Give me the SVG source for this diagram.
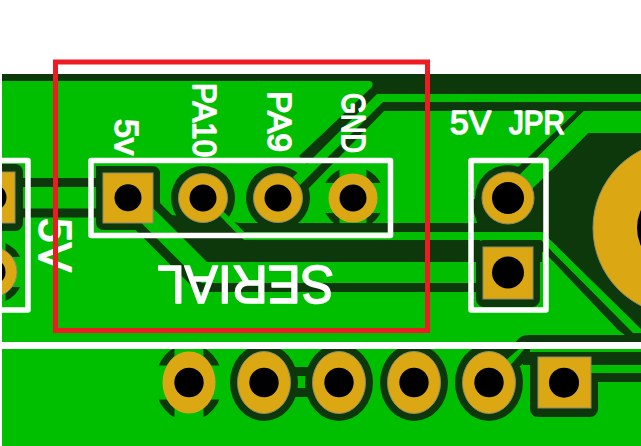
<svg xmlns="http://www.w3.org/2000/svg" width="641" height="446" viewBox="0 0 641 446">
<style>
.g{fill:#00bf00}.d{fill:#0c380c}.tr{fill:none;stroke:#0c380c;stroke-width:9}
.p{fill:#dba813;stroke:#8b8b70;stroke-width:1}.h{fill:#000}
.box{fill:none;stroke:#fff;stroke-width:5.5;stroke-linejoin:round}
.t{font-family:"Liberation Sans",Arial,sans-serif;fill:#fff;stroke:#fff;stroke-width:1.6;font-size:33px;stroke-linejoin:round}
</style>
<rect width="641" height="446" fill="#fff"/>
<rect class="g" x="2" y="74" width="639" height="372"/>
<g id="connectors">
<path class="d" d="M2 74H641V94H377L307 164L299 156L372 87Q374 81 369 81H2Z"/>
<path class="d" d="M641 102H379L300 181L308 189L384 111H641Z"/>
<path class="d" d="M577 111H584L525 170L515 170Z"/>
<path class="d" d="M588 133H641V329L542 232H480L470 200L533 188Z"/>
<path class="tr" d="M23 182.500H100M23 213H100"/>
<path class="d" d="M96 166H152Q160 166 160 174V230H104Q96 230 96 222Z"/>
<path class="g" d="M153 208L215 270L200 285L138 223L153 223Z"/>
<path class="tr" d="M134 222L199.500 287.500H490"/>
<path class="d" d="M153 208V203H160L172 215L240 223H480V262H207Z"/>
<path class="d" d="M530 232H542V262H530ZM540 240H541L633 332H641V335H625L618 330L547 255L540 250Z"/>
<path class="d" d="M516 342Q520 335 528 335H641V342Z"/>
<path class="g" d="M216 212L222 210L244 232H542L641 331V333H633L541 240H244Z"/>
<path class="d" d="M523 352H641V365H523ZM590 373H641V382H590Z"/>
</g>
<g id="pad-left-1">
<rect class="d" x="-20" y="164" width="43" height="67" rx="8"/>
<rect class="p" x="-30" y="172" width="45" height="51"/>
<circle class="h" cx="-7" cy="197.500" r="13.500"/>
</g>
<g id="pad-left-2">
<circle class="d" cx="-8" cy="272" r="32"/>
<rect class="g" x="-50" y="257" width="84" height="30"/>
<rect class="g" x="-21.500" y="235" width="27" height="74"/>
<circle class="p" cx="-8" cy="272" r="25"/>
<circle class="h" cx="-8" cy="272" r="13.500"/>
</g>
<g id="pad-5v">
<rect class="p" x="103" y="173" width="50" height="50"/>
<circle class="h" cx="128" cy="197.700" r="13.500"/>
</g>
<g id="pad-pa10">
<circle class="d" cx="203" cy="198" r="32"/>
<path class="g" d="M216 212L222 210L244 232H236Z"/>
<circle class="p" cx="203" cy="198" r="24.500"/>
<circle class="h" cx="203" cy="198" r="13.500"/>
</g>
<g id="pad-pa9">
<circle class="d" cx="278" cy="198" r="32"/>
<path class="g" d="M293 177L300 185L388 97L381 97Z"/>
<circle class="p" cx="278" cy="198" r="24.500"/>
<circle class="h" cx="278" cy="198" r="13.500"/>
</g>
<g id="pad-gnd">
<circle class="d" cx="353" cy="198" r="31.500"/>
<rect class="g" x="339.500" y="160" width="27" height="63"/>
<rect class="g" x="315" y="183" width="76" height="30"/>
<circle cx="353" cy="198" r="24.500" fill="#dba813"/>
<circle class="h" cx="353" cy="198" r="13.500"/>
</g>
<g id="pad-jpr-1">
<circle class="d" cx="508" cy="198" r="33"/>
<path class="g" d="M584 111H641V133H588L533 188L527 200H500L500 194Z"/>
<path class="d" d="M533 188L528 222H500L520 200Z"/>
<circle class="p" cx="508" cy="198" r="26"/>
<circle class="h" cx="508" cy="198" r="16"/>
</g>
<g id="pad-jpr-2">
<rect class="d" x="476" y="240" width="64" height="67" rx="8"/>
<rect class="p" x="483" y="247" width="50" height="52"/>
<circle class="h" cx="508" cy="272.500" r="16"/>
</g>
<g id="pad-mount">
<circle class="p" cx="680" cy="228" r="87"/>
<circle class="h" cx="680" cy="228" r="43"/>
</g>
<g id="pad-b1">
<ellipse class="d" cx="189" cy="382.500" rx="34" ry="38.500"/>
<rect class="g" x="174.500" y="340" width="29" height="85"/>
<rect class="g" x="150" y="365.500" width="78" height="34"/>
<ellipse cx="189" cy="382.500" rx="26.500" ry="31" fill="#dba813"/>
<circle class="h" cx="189" cy="382.500" r="14.700"/>
</g>
<g id="pad-b2">
<ellipse class="d" cx="264" cy="382.500" rx="34" ry="38.500"/>
<path class="d" d="M290 367H315V376H290ZM290 388H315V397H290Z"/>
<ellipse class="p" cx="264" cy="382.500" rx="26.500" ry="31"/>
<circle class="h" cx="264" cy="382.500" r="14.700"/>
</g>
<g id="pad-b3">
<ellipse class="d" cx="339" cy="382.500" rx="34" ry="38.500"/>
<ellipse class="p" cx="339" cy="382.500" rx="26.500" ry="31"/>
<circle class="h" cx="339" cy="382.500" r="14.700"/>
</g>
<g id="pad-b4">
<ellipse class="d" cx="414" cy="382.500" rx="34" ry="38.500"/>
<ellipse class="p" cx="414" cy="382.500" rx="26.500" ry="31"/>
<circle class="h" cx="414" cy="382.500" r="14.700"/>
</g>
<g id="pad-b5">
<ellipse class="d" cx="489" cy="382.500" rx="34" ry="38.500"/>
<path class="d" d="M505 342H530V358L520 366H505Z"/>
<path class="g" d="M504 362L521 347H526L509 367Z"/>
<ellipse class="p" cx="489" cy="382.500" rx="26.500" ry="31"/>
<circle class="h" cx="489" cy="382.500" r="14.700"/>
</g>
<g id="pad-b6">
<rect class="d" x="530" y="352" width="68" height="65" rx="8"/>
<rect class="g" x="591" y="365" width="9" height="8"/>
<rect class="p" x="538" y="357" width="53" height="51"/>
<circle class="h" cx="564" cy="382.700" r="15"/>
</g>
<rect x="2" y="342" width="639" height="7" fill="#fff"/>
<rect class="box" x="-10" y="160.500" width="38" height="149.500"/>
<rect class="box" x="91" y="160.500" width="299.500" height="75"/>
<rect class="box" x="471" y="160.500" width="75" height="149.500"/>
<rect x="0" y="0" width="2" height="446" fill="#fff"/>
<g id="labels">
<text class="t" transform="translate(115 119) rotate(90)" textLength="36" lengthAdjust="spacingAndGlyphs">5v</text>
<text class="t" transform="translate(193 83) rotate(90)" textLength="74" lengthAdjust="spacingAndGlyphs">PA10</text>
<text class="t" transform="translate(268 91) rotate(90)" textLength="61" lengthAdjust="spacingAndGlyphs">PA9</text>
<text class="t" transform="translate(342 93) rotate(90)" textLength="60" lengthAdjust="spacingAndGlyphs">GND</text>
<text class="t" y="134"><tspan x="450" textLength="41" lengthAdjust="spacingAndGlyphs">5V</tspan><tspan x="509" textLength="56" lengthAdjust="spacingAndGlyphs">JPR</tspan></text>
<text class="t" transform="translate(39 218) rotate(90)" style="font-size:46px" textLength="54" lengthAdjust="spacingAndGlyphs">5V</text>
<text class="t" transform="translate(334 266) rotate(180)" style="font-size:54px" textLength="177" lengthAdjust="spacingAndGlyphs">SERIAL</text>
</g>
<rect x="55.500" y="62" width="372" height="268.500" fill="none" stroke="#ed1c24" stroke-width="5"/>
</svg>
